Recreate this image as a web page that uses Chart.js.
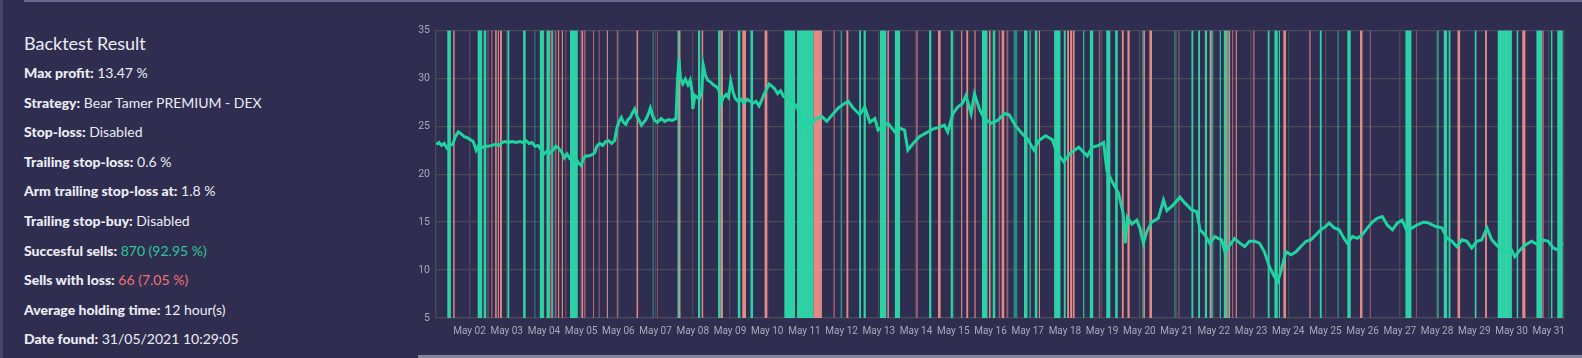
<!DOCTYPE html>
<html>
<head>
<meta charset="utf-8">
<script src="https://cdn.jsdelivr.net/npm/chart.js@4.4.0/dist/chart.umd.min.js"></script>
<style>
    body { margin: 0; width: 1582px; height: 358px; background: #2f2e51; overflow: hidden; position: relative; font-family: Lato, "Noto Sans", sans-serif; }
    #edge { position: absolute; left: 0; top: 0; width: 3px; height: 358px; background: #46456a; }
    #top-line { position: absolute; left: 24px; right: 0; top: 0; height: 2px; background: #6b6a92; }
    #bottom-line { position: absolute; left: 418px; right: 0; top: 355px; height: 3px; background: #85859c; }
    #panel { position: absolute; left: 24px; top: 29px; color: #ececf4; }
    #panel h2 { margin: 0; font-weight: 400; font-size: 18px; height: 29px; line-height: 29px; }
    .row { font-size: 14px; height: 29.6px; line-height: 29.6px; white-space: nowrap; }
    .row b { font-weight: 900; }
    .good { color: #2ec795; }
    .bad { color: #f2706b; }
    #chart-box { position: absolute; left: 395px; top: 18px; width: 1177px; height: 330px; }
</style>
</head>
<body>
<div id="edge"></div>
<div id="top-line"></div>
<div id="bottom-line"></div>

<div id="panel">
    <h2>Backtest Result</h2>
    <div class="row"><b>Max profit:</b> 13.47 %</div>
    <div class="row"><b>Strategy:</b> Bear Tamer PREMIUM - DEX</div>
    <div class="row"><b>Stop-loss:</b> Disabled</div>
    <div class="row"><b>Trailing stop-loss:</b> 0.6 %</div>
    <div class="row"><b>Arm trailing stop-loss at:</b> 1.8 %</div>
    <div class="row"><b>Trailing stop-buy:</b> Disabled</div>
    <div class="row"><b>Succesful sells:</b> <span class="good">870 (92.95 %)</span></div>
    <div class="row"><b>Sells with loss:</b> <span class="bad">66 (7.05 %)</span></div>
    <div class="row"><b>Average holding time:</b> 12 hour(s)</div>
    <div class="row"><b>Date found:</b> 31/05/2021 10:29:05</div>
</div>

<div id="chart-box"><canvas id="backtest-chart"></canvas></div>

<script>
// time axis is in days of May 2021 (2.0 = May 02 00:00)
const xMin = 1.10;
const xMax = 31.39;
const yMin = 5;
const yMax = 35;

// price line
const priceDays = [
    1.11, 1.18, 1.25, 1.32, 1.40, 1.47, 1.55, 1.62, 1.70, 1.78, 1.86, 1.94, 2.02, 2.10, 2.18, 2.25, 2.32, 2.40, 2.50, 2.60,
    2.70, 2.80, 2.88, 2.95, 3.05, 3.15, 3.25, 3.35, 3.45, 3.52, 3.60, 3.68, 3.76, 3.84, 3.92, 4.00, 4.08, 4.16, 4.24, 4.32,
    4.40, 4.48, 4.55, 4.62, 4.70, 4.78, 4.86, 4.94, 5.00, 5.06, 5.12, 5.20, 5.28, 5.36, 5.42, 5.50, 5.58, 5.66, 5.74, 5.82,
    5.90, 5.96, 6.02, 6.08, 6.14, 6.20, 6.26, 6.32, 6.38, 6.44, 6.50, 6.56, 6.62, 6.68, 6.74, 6.80, 6.86, 6.92, 6.98, 7.05,
    7.15, 7.25, 7.35, 7.45, 7.55, 7.59, 7.63, 7.67, 7.73, 7.80, 7.87, 7.93, 7.98, 8.00, 8.06, 8.12, 8.18, 8.24, 8.28, 8.34,
    8.40, 8.48, 8.56, 8.64, 8.70, 8.76, 8.82, 8.90, 8.96, 9.02, 9.08, 9.14, 9.22, 9.30, 9.38, 9.46, 9.54, 9.62, 9.70, 9.78,
    9.86, 9.92, 9.98, 10.05, 10.12, 10.20, 10.28, 10.36, 10.44, 10.52, 10.60, 10.68, 10.76, 10.84,
    10.93, 11.06, 11.20, 11.33, 11.47, 11.60, 11.73, 11.91, 12.05, 12.18, 12.31, 12.49, 12.62, 12.76, 12.89, 12.98,
    13.11, 13.25, 13.43, 13.56, 13.69, 13.78, 13.92, 14.09, 14.27, 14.45, 14.63, 14.76, 14.85, 14.99, 15.12, 15.25,
    15.34, 15.48, 15.57, 15.70, 15.83, 16.01, 16.19, 16.37, 16.50, 16.68, 16.86, 16.99, 17.17, 17.30, 17.48, 17.66,
    17.79, 17.97, 18.15, 18.37, 18.60, 18.73, 18.91, 19.04, 19.13, 19.26, 19.44, 19.56, 19.62, 19.68, 19.80, 19.93,
    20.02, 20.11, 20.20, 20.33, 20.51, 20.65, 20.74, 20.91, 21.09, 21.22, 21.40,
    21.54, 21.63, 21.76, 21.89, 22.03, 22.12, 22.21, 22.30, 22.43, 22.56, 22.70, 22.83, 22.96, 23.10, 23.23, 23.36,
    23.50, 23.63, 23.72, 23.81, 23.94, 24.08, 24.21, 24.34, 24.48, 24.61, 24.75, 24.88, 25.01, 25.10, 25.24, 25.37,
    25.50, 25.59, 25.73, 25.86, 25.99, 26.13, 26.26, 26.39, 26.53, 26.66, 26.80, 26.93, 27.06, 27.20, 27.33, 27.46,
    27.64, 27.78, 27.95, 28.13, 28.27, 28.40, 28.53, 28.67, 28.80, 28.93, 29.07, 29.20, 29.34, 29.47, 29.60, 29.74,
    29.87, 30.00, 30.09, 30.23, 30.36, 30.54, 30.72, 30.85, 30.99, 31.12, 31.25, 31.39
];
const priceValues = [
    23.1, 23.3, 23.0, 23.2, 22.7, 23.0, 23.1, 23.9, 24.4, 24.2, 23.9, 23.8, 23.6, 23.4, 22.5, 23.0, 22.7, 22.9, 22.9, 23.0,
    23.1, 23.0, 23.3, 23.4, 23.3, 23.4, 23.3, 23.4, 23.3, 23.5, 23.2, 23.3, 22.9, 23.0, 22.6, 22.1, 22.4, 22.2, 22.5, 22.9,
    22.7, 22.3, 21.7, 22.1, 21.6, 21.4, 21.6, 21.1, 20.9, 21.6, 21.9, 21.9, 22.0, 22.2, 22.9, 23.2, 23.0, 23.4, 23.5, 23.2,
    23.5, 24.8, 25.5, 25.9, 25.4, 25.2, 25.7, 25.9, 26.4, 26.8, 26.0, 25.6, 25.1, 25.4, 25.7, 26.2, 26.9, 26.1, 25.6, 25.4,
    25.8, 25.5, 25.7, 25.6, 25.8, 29.8, 32.0, 30.0, 29.4, 29.9, 29.3, 29.8, 28.6, 26.8, 28.2, 28.0, 27.9, 28.6, 31.4, 30.3,
    29.8, 29.6, 29.3, 29.1, 28.8, 27.4, 28.0, 28.3, 28.0, 29.7, 28.6, 27.9, 27.6, 27.8, 27.4, 27.8, 27.6, 27.4, 27.6, 27.1,
    27.8, 28.4, 28.8, 29.4, 29.2, 28.9, 28.4, 28.7, 28.1, 28.0, 27.9, 27.5, 27.2, 26.6,
    24.9, 25.3, 25.3, 25.8, 26.0, 25.5, 26.1, 26.9, 27.3, 27.6, 26.9, 26.2, 27.0, 25.4, 25.8, 24.6,
    25.0, 25.3, 24.4, 24.8, 24.6, 22.5, 23.2, 23.9, 24.3, 24.7, 24.9, 25.1, 24.4, 26.3, 27.0, 27.4,
    28.2, 26.3, 28.4, 26.8, 25.8, 25.3, 25.6, 26.3, 26.2, 25.0, 24.2, 23.7, 22.5, 23.5, 24.0, 23.6,
    22.2, 21.3, 22.2, 22.8, 21.9, 22.8, 23.0, 23.3, 20.3, 19.3, 18.0, 16.0, 12.8, 15.5, 14.8, 15.2,
    14.3, 12.8, 14.0, 15.0, 15.4, 17.3, 16.2, 16.8, 17.6, 17.0, 16.3,
    16.1, 14.2, 13.7, 12.8, 13.5, 13.3, 13.15, 11.9, 12.6, 13.3, 12.8, 12.45, 13.0, 13.0, 12.8, 11.9,
    10.3, 9.3, 8.8, 10.0, 11.9, 11.6, 11.9, 12.45, 13.0, 13.15, 13.7, 14.2, 14.55, 14.9, 14.4, 14.2,
    13.3, 12.8, 13.5, 13.3, 13.7, 14.4, 15.0, 15.4, 15.58, 14.7, 14.2, 14.9, 15.2, 14.0, 14.4, 14.7,
    15.0, 14.9, 14.55, 14.4, 13.3, 13.0, 12.45, 13.15, 13.0, 12.3, 13.0, 13.15, 14.4, 13.15, 12.6, 12.1,
    11.76, 12.1, 11.4, 12.1, 12.6, 13.0, 12.6, 13.15, 13.0, 12.3, 12.1, 12.8
];

// sells as [start, end] in days; clusters of sells show as wide bands
const tealSells = [
    [1.40, 1.50], [2.22, 2.34], [2.38, 2.45], [3.02, 3.07], [3.44, 3.51], [3.89, 4.00], [4.07, 4.16], [4.22, 4.25],
    [4.70, 4.91], [7.59, 7.63], [8.14, 8.20], [8.68, 8.75], [9.21, 9.28], [9.55, 9.62], [10.46, 10.75], [10.80, 11.24],
    [12.47, 12.52], [12.59, 12.65], [13.03, 13.20], [13.43, 13.57], [14.35, 14.41], [14.93, 14.99], [15.77, 15.92],
    [16.06, 16.13], [16.90, 16.99], [17.05, 17.08], [17.19, 17.26], [17.71, 17.88], [17.97, 18.02], [18.49, 18.52],
    [18.67, 18.76], [19.11, 19.22], [19.35, 19.42], [21.40, 21.45], [21.58, 21.63], [21.76, 21.82], [21.93, 21.97],
    [22.16, 22.19], [22.27, 22.33], [22.37, 22.40], [23.45, 23.50], [23.63, 23.72], [23.75, 23.78], [24.85, 24.90],
    [25.33, 25.35], [25.59, 25.68], [27.15, 27.31], [28.01, 28.04], [28.18, 28.27], [28.31, 28.36], [29.02, 29.06],
    [29.63, 30.01], [30.14, 30.18], [30.67, 30.82], [31.06, 31.10], [31.23, 31.38]
];
const salmonSells = [
    [1.56, 1.60], [2.69, 2.73], [2.76, 2.79], [2.82, 2.87], [4.18, 4.21], [4.38, 4.41], [4.48, 4.51], [5.01, 5.05],
    [5.32, 5.34], [5.69, 5.72], [5.96, 5.98], [6.49, 6.53], [7.63, 7.67], [8.24, 8.28], [8.75, 8.81], [9.33, 9.43],
    [9.93, 10.00], [11.24, 11.47], [12.13, 12.18], [13.23, 13.27], [14.59, 14.66], [15.21, 15.24], [15.35, 15.40],
    [15.57, 15.60], [15.96, 16.00], [16.30, 16.37], [17.30, 17.33], [18.06, 18.11], [18.14, 18.19], [18.21, 18.26],
    [19.53, 19.58], [19.68, 19.74], [20.11, 20.15], [20.27, 20.34], [21.89, 21.93], [22.33, 22.37], [22.40, 22.44],
    [22.50, 22.52], [22.59, 22.62], [23.87, 23.94], [24.57, 24.60], [25.93, 25.99], [28.55, 28.62], [29.29, 29.34],
    [29.70, 29.72], [29.85, 29.87], [30.29, 30.38]
];
const roseDimSells = [
    [2.48, 2.51], [2.58, 2.62], [4.29, 4.34], [4.58, 4.60], [5.07, 5.12], [5.47, 5.50], [7.04, 7.06], [11.78, 11.82],
    [14.00, 14.05], [16.22, 16.26], [16.43, 16.48], [18.91, 18.95], [21.05, 21.08], [23.05, 23.10], [26.19, 26.22],
    [27.44, 27.46], [30.82, 30.88]
];
const tealDimSells = [
    [3.74, 3.77], [6.92, 6.95], [11.97, 12.01], [16.62, 16.72], [20.07, 20.11], [20.94, 20.98]
];

function dayLabel(day) {
    return 'May ' + String(day).padStart(2, '0');
}

// stepped line that sits on top of the axis inside a band and on the bottom outside it
function bandPoints(bands) {
    const points = [];
    bands.forEach(([start, end]) => {
        points.push({ x: start, y: yMax });
        points.push({ x: end, y: yMin });
    });
    return points;
}

function bandDataset(bands, color) {
    return {
        data: bandPoints(bands),
        stepped: 'before',
        fill: 'start',
        backgroundColor: color,
        borderWidth: 0,
        pointRadius: 0,
        order: 2
    };
}

const gridColor = '#4b4a5a';
const tickColor = '#a9a9b9';

new Chart(document.getElementById('backtest-chart'), {
    type: 'line',
    data: {
        datasets: [
            {
                data: priceDays.map((day, i) => ({ x: day, y: priceValues[i] })),
                borderColor: '#1fd4a0',
                borderWidth: 3,
                pointRadius: 0,
                tension: 0,
                fill: false,
                order: 0
            },
            bandDataset(tealSells, 'rgba(46, 224, 172, 0.92)'),
            bandDataset(salmonSells, 'rgba(242, 146, 138, 0.92)'),
            bandDataset(roseDimSells, 'rgba(160, 98, 114, 0.92)'),
            bandDataset(tealDimSells, 'rgba(40, 148, 134, 0.92)')
        ]
    },
    options: {
        responsive: true,
        maintainAspectRatio: false,
        animation: false,
        layout: { padding: { right: 1 } },
        plugins: {
            legend: { display: false },
            tooltip: { enabled: false }
        },
        scales: {
            x: {
                type: 'linear',
                min: xMin,
                max: xMax,
                grid: { color: gridColor, lineWidth: 1.3, drawTicks: false },
                border: { color: gridColor, width: 1.3 },
                ticks: {
                    stepSize: 1,
                    includeBounds: false,
                    autoSkip: false,
                    maxRotation: 0,
                    padding: 7,
                    color: tickColor,
                    font: { family: 'Roboto', size: 10 },
                    callback: value => dayLabel(value)
                },
                afterFit: scale => { scale.height = 30; }
            },
            y: {
                min: yMin,
                max: yMax,
                grid: { color: gridColor, lineWidth: 1.3, drawTicks: false },
                border: { color: gridColor, width: 1.3 },
                ticks: {
                    stepSize: 5,
                    padding: 6,
                    color: tickColor,
                    font: { family: 'Roboto', size: 10.5 }
                },
                afterFit: scale => { scale.width = 41; }
            },
            // right-hand frame of the plot
            yRight: {
                position: 'right',
                min: yMin,
                max: yMax,
                grid: { display: false },
                border: { color: gridColor, width: 1.3 },
                ticks: { display: false },
                afterFit: scale => { scale.width = 1; }
            }
        }
    }
});
</script>
</body>
</html>
